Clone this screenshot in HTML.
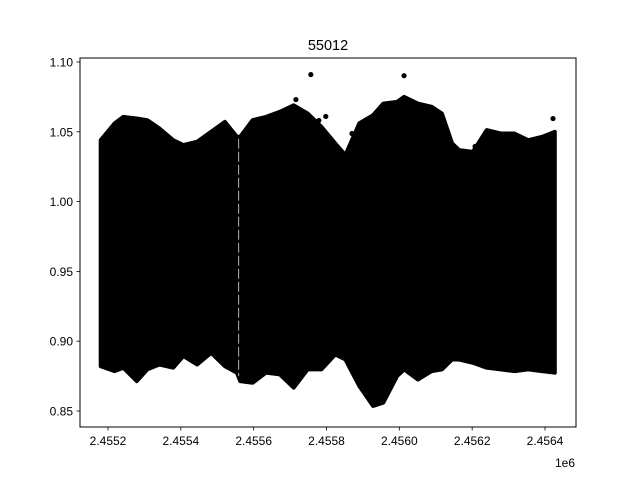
<!DOCTYPE html>
<html><head><meta charset="utf-8"><style>body{margin:0;background:#fff}svg{display:block}</style></head>
<body>
<svg id="c" width="640" height="480" xmlns="http://www.w3.org/2000/svg" font-family="Liberation Sans, DejaVu Sans, sans-serif">
<rect width="640" height="480" fill="#fff"/>
<text x="328" y="50" font-size="14.5" text-anchor="middle">55012</text>
<g id="marks"></g>
<g id="axes"></g>
<rect x="80" y="58" width="496" height="369" fill="none" stroke="#000" stroke-width="1"/>
<text x="575" y="467" font-size="12" text-anchor="end">1e6</text>
</svg>
<script>
const envX=[2.455180,2.455218,2.455242,2.455279,2.455308,2.455341,2.455379,2.455407,2.455445,2.455483,2.455521,2.455554,2.455563,2.455597,2.455634,2.455672,2.455710,2.455748,2.455786,2.455824,2.455852,2.455890,2.455928,2.455956,2.455994,2.456013,2.456051,2.456089,2.456117,2.456145,2.456164,2.456202,2.456240,2.456278,2.456316,2.456354,2.456392,2.456427];
const envUpper=[1.0440,1.0560,1.0607,1.0595,1.0583,1.0524,1.0440,1.0405,1.0429,1.0500,1.0571,1.0464,1.0464,1.0583,1.0607,1.0643,1.0690,1.0631,1.0536,1.0417,1.0333,1.0560,1.0619,1.0702,1.0714,1.0750,1.0702,1.0679,1.0631,1.0417,1.0369,1.0357,1.0512,1.0488,1.0488,1.0440,1.0464,1.0500];
const envLower=[0.8821,0.8786,0.8810,0.8714,0.8798,0.8833,0.8810,0.8893,0.8833,0.8917,0.8821,0.8774,0.8714,0.8702,0.8774,0.8762,0.8667,0.8798,0.8798,0.8905,0.8869,0.8679,0.8536,0.8560,0.8750,0.8798,0.8726,0.8786,0.8798,0.8869,0.8869,0.8845,0.8810,0.8798,0.8786,0.8798,0.8786,0.8774];
const outX=[2.455757,2.456013,2.455716,2.455779,2.455798,2.455870,2.456208,2.456422];
const outY=[1.0910,1.0902,1.0731,1.0581,1.0610,1.0488,1.0395,1.0595];
const gapX=[2.455559];
const xTicks=[2.4552,2.4554,2.4556,2.4558,2.4560,2.4562,2.4564];
const xTickLabels=["2.4552","2.4554","2.4556","2.4558","2.4560","2.4562","2.4564"];
const yTicks=[0.85,0.90,0.95,1.00,1.05,1.10];
const yTickLabels=["0.85","0.90","0.95","1.00","1.05","1.10"];

const NS="http://www.w3.org/2000/svg";
const sx=v=>108+(v-2.4552)/0.0012*437;
const sy=v=>62+(1.10-v)/0.05*69.8;
const marks=document.getElementById('marks');
const axes=document.getElementById('axes');
function mk(tag,attrs,parent){const e=document.createElementNS(NS,tag);for(const k in attrs)e.setAttribute(k,attrs[k]);parent.appendChild(e);return e;}

let pts=[];
for(let i=0;i<envX.length;i++)pts.push(sx(envX[i]).toFixed(1)+","+sy(envUpper[i]).toFixed(1));
for(let i=envX.length-1;i>=0;i--)pts.push(sx(envX[i]).toFixed(1)+","+sy(envLower[i]).toFixed(1));
const poly=mk('polygon',{points:pts.join(' '),fill:'#000',stroke:'#000','stroke-width':4,'stroke-linejoin':'round'},marks);


gapX.forEach(g=>{
  const l=mk('line',{x1:sx(g),x2:sx(g),y1:sy(1.045),y2:sy(0.875),stroke:'#fff','stroke-width':0.7,'stroke-dasharray':'10 3'},marks);
  
  
});
for(let i=0;i<outX.length;i++){
  const c=mk('circle',{cx:sx(outX[i]),cy:sy(outY[i]),r:2.6,fill:'#000'},marks);
  
  
}
xTicks.forEach((t,i)=>{
  const x=sx(t);
  const l=mk('line',{x1:x,x2:x,y1:427,y2:430.5,stroke:'#000','stroke-width':0.8},axes);
  
  
  const tx=mk('text',{x:x,y:445,'font-size':12,'text-anchor':'middle'},axes);
  tx.textContent=xTickLabels[i];
  
  
});
yTicks.forEach((t,i)=>{
  const y=sy(t);
  const l=mk('line',{x1:76.5,x2:80,y1:y,y2:y,stroke:'#000','stroke-width':0.8},axes);
  
  
  const tx=mk('text',{x:73,y:y+4.5,'font-size':12,'text-anchor':'end'},axes);
  tx.textContent=yTickLabels[i];
  
  
});
</script>
</body></html>
